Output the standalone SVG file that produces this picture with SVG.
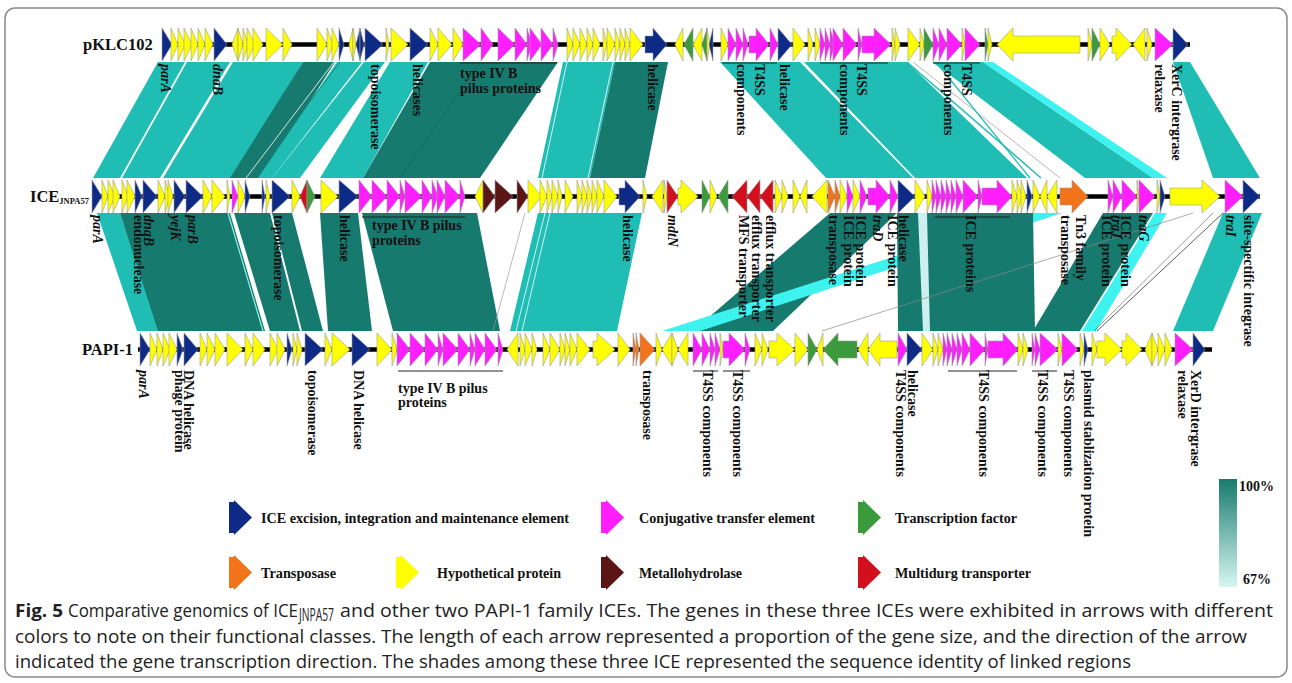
<svg xmlns="http://www.w3.org/2000/svg" width="1292" height="683" viewBox="0 0 1292 683">
<style>
.n{fill:#0c2a86}.m{fill:#ff1eff}.y{fill:#ffff00}.g{fill:#3b9a3b}.o{fill:#f2731a}.b{fill:#5b1515}.r{fill:#d20f1c}
.trk polygon,.leg polygon{stroke:#9a9a9a;stroke-width:0.6;stroke-linejoin:round}
.bb{stroke:#000;stroke-width:4.5}
.lt{fill:#20bdb5}.dk{fill:#177a6f}.cy{fill:#3ef2ef}.pl{fill:#cdeff0}
.lb{font-family:"Liberation Serif","Times New Roman",serif;font-weight:bold;font-size:14px;fill:#111}
.it{font-style:italic}
.bar{stroke:#222;stroke-width:1}
.tn{font-family:"Liberation Serif","Times New Roman",serif;font-weight:bold;font-size:16.5px;fill:#111}
.lg{font-family:"Liberation Serif","Times New Roman",serif;font-weight:bold;font-size:15.5px;fill:#111}
.cap{font-family:"Open Sans","Liberation Sans",sans-serif;font-size:18px;fill:#222}
</style>
<defs>
<linearGradient id="idg" x1="0" y1="0" x2="0" y2="1">
<stop offset="0" stop-color="#187a6d"/><stop offset="1" stop-color="#d6f7f1"/>
</linearGradient>
<polygon id="la" points="0,2 5,2 5,0 23,17.5 5,35 5,33 0,33"/>
</defs>
<rect x="5" y="8" width="1282" height="669" rx="10" fill="#fff" stroke="#8a8a8a" stroke-width="1.5"/>

<g id="connectors">
<polygon class="lt" points="158,62 185,62 120,178 93,178"/>
<polygon class="lt" points="187,62 230,62 160,178 122,178"/>
<polygon class="lt" points="233,62 303,62 232,178 163,178"/>
<polygon class="dk" points="303,62 335,62 262,178 230,178"/>
<polygon class="lt" points="337,62 362,62 272,178 258,178"/>
<line x1="334" y1="62" x2="246" y2="178" stroke="#fff" stroke-width="0.8"/>
<line x1="340" y1="62" x2="252" y2="178" stroke="#177a6f" stroke-width="0.8"/>
<polygon class="lt" points="364,62 385,62 300,178 272,178"/>
<polygon class="lt" points="390,62 428,62 363,178 320,178"/>
<polygon class="dk" points="430,62 558,62 480,178 363,178"/>
<line x1="480" y1="62" x2="400" y2="178" stroke="#0f5f56" stroke-width="0.6"/>
<polygon class="lt" points="563,62 615,62 590,178 538,178"/>
<line x1="567" y1="62" x2="542" y2="178" stroke="#fff" stroke-width="0.8"/>
<line x1="613" y1="62" x2="588" y2="178" stroke="#fff" stroke-width="0.8"/>
<polygon class="dk" points="615,62 668,62 645,178 590,178"/>
<polygon class="lt" points="720,62 800,62 913,178 826,178"/>
<polygon class="lt" points="804,62 907,62 1027,178 915,178"/>
<polygon class="lt" points="933,62 983,62 1153,178 1085,178"/>
<polygon class="cy" points="983,62 993,62 1167,178 1153,178"/>
<line x1="907" y1="62" x2="1041" y2="178" stroke="#20bdb5" stroke-width="1.5"/>
<line x1="933" y1="62" x2="1099" y2="178" stroke="#20bdb5" stroke-width="1.5"/>
<line x1="913" y1="62" x2="1060" y2="178" stroke="#999" stroke-width="0.7"/>
<line x1="936" y1="62" x2="1030" y2="178" stroke="#20bdb5" stroke-width="1.2"/>
<polygon class="lt" points="1173,62 1190,62 1260,178 1213,178"/>

<polygon class="lt" points="97,213 120,213 160,331 137,331"/>
<polygon class="dk" points="120,213 230,213 265,331 158,331"/>
<line x1="228" y1="213" x2="263" y2="331" stroke="#8eeeea" stroke-width="1.2"/>
<polygon class="dk" points="234,213 270,213 300,331 270,331"/>
<polygon class="dk" points="272,213 292,213 323,331 302,331"/>
<polygon class="dk" points="320,213 358,213 372,331 328,331"/>
<polygon class="dk" points="362,213 477,213 500,331 393,331"/>
<polygon class="lt" points="538,213 642,213 617,331 510,331"/>
<line x1="545" y1="213" x2="516" y2="331" stroke="#fff" stroke-width="0.8"/>
<line x1="550" y1="213" x2="522" y2="331" stroke="#fff" stroke-width="0.8"/>
<line x1="525" y1="213" x2="493" y2="331" stroke="#999" stroke-width="0.7"/>
<polygon class="dk" points="830,213 897,213 773,331 693,331"/>
<polygon class="cy" points="1030,213 1062,213 700,331 662,331"/>
<polygon class="dk" points="897,213 1033,213 1035,331 898,331"/>
<polygon class="pl" points="918,213 927,213 930,331 923,331"/>
<polygon class="dk" points="1103,213 1153,213 1080,331 1033,331"/>
<polygon class="cy" points="1155,213 1167,213 1096,331 1082,331"/>
<line x1="1193" y1="213" x2="822" y2="331" stroke="#888" stroke-width="0.7"/>
<line x1="1223" y1="213" x2="1097" y2="331" stroke="#333" stroke-width="0.8"/>
<line x1="1213" y1="213" x2="1094" y2="331" stroke="#555" stroke-width="0.6"/>
<polygon class="lt" points="1223,213 1262,213 1213,331 1173,331"/>
</g>

<g id="track-pKLC102" class="trk" transform="translate(0,28)">
<line class="bb" x1="162" y1="16.5" x2="1190" y2="16.5"/>
<polygon class="n" points="162,0 172,16.5 162,33"/>
<polygon class="y" points="171,0 178,16.5 171,33"/>
<polygon class="y" points="178,0 185,16.5 178,33"/>
<polygon class="y" points="184,0 192,16.5 184,33"/>
<polygon class="y" points="191,0 198,16.5 191,33"/>
<polygon class="y" points="198,0 205,16.5 198,33"/>
<polygon class="y" points="205,0 213,16.5 205,33"/>
<polygon class="n" points="214,0 227,16.5 214,33"/>
<polygon class="y" points="238,0 232,16.5 238,33"/>
<polygon class="y" points="238,0 243,16.5 238,33"/>
<polygon class="y" points="243,0 248,16.5 243,33"/>
<polygon class="y" points="247,0 255,16.5 247,33"/>
<polygon class="y" points="253,0 263,16.5 253,33"/>
<polygon class="y" points="266,0 283,16.5 266,33"/>
<polygon class="y" points="283,0 292,16.5 283,33"/>
<polygon class="y" points="317,0 327,16.5 317,33"/>
<polygon class="y" points="327,0 333,16.5 327,33"/>
<polygon class="y" points="332,0 339,16.5 332,33"/>
<polygon class="n" points="339,0 344,16.5 339,33"/>
<polygon class="y" points="353,0 349,16.5 353,33"/>
<polygon class="y" points="353,0 356,16.5 353,33"/>
<polygon class="n" points="360,0 356,16.5 360,33"/>
<polygon class="n" points="360,0 364,16.5 360,33"/>
<polygon class="n" points="365,0 383,16.5 365,33"/>
<polygon class="y" points="386,0 389,16.5 386,33"/>
<polygon class="y" points="391,0 408,16.5 391,33"/>
<polygon class="n" points="410,0 428,16.5 410,33"/>
<polygon class="y" points="430,0 438,16.5 430,33"/>
<polygon class="y" points="438,0 452,16.5 438,33"/>
<polygon class="y" points="453,0 463,16.5 453,33"/>
<polygon class="m" points="463,0 481,16.5 463,33"/>
<polygon class="m" points="481,0 493,16.5 481,33"/>
<polygon class="m" points="498,0 515,16.5 498,33"/>
<polygon class="m" points="515,0 527,16.5 515,33"/>
<polygon class="m" points="527,0 532,16.5 527,33"/>
<polygon class="m" points="530,0 542,16.5 530,33"/>
<polygon class="m" points="541,0 553,16.5 541,33"/>
<polygon class="m" points="553,0 558,16.5 553,33"/>
<polygon class="y" points="567,0 573,16.5 567,33"/>
<polygon class="y" points="573,0 580,16.5 573,33"/>
<polygon class="y" points="580,0 587,16.5 580,33"/>
<polygon class="y" points="587,0 593,16.5 587,33"/>
<polygon class="y" points="593,0 600,16.5 593,33"/>
<polygon class="y" points="603,0 607,16.5 603,33"/>
<polygon class="y" points="607,0 615,16.5 607,33"/>
<polygon class="y" points="615,0 620,16.5 615,33"/>
<polygon class="y" points="620,0 625,16.5 620,33"/>
<polygon class="y" points="625,0 630,16.5 625,33"/>
<polygon class="y" points="630,0 643,16.5 630,33"/>
<polygon class="n" points="645,8 653,8 653,0 667,16.5 653,33 653,25 645,25"/>
<polygon class="y" points="683,0 675,16.5 683,33"/>
<polygon class="g" points="693,0 684,16.5 693,33"/>
<polygon class="y" points="702,0 693,16.5 702,33"/>
<polygon class="g" points="707,0 702,16.5 707,33"/>
<polygon class="y" points="707,0 710,16.5 707,33"/>
<polygon class="n" points="713,0 709,16.5 713,33"/>
<polygon class="y" points="721,0 728,16.5 721,33"/>
<polygon class="m" points="728,0 736,16.5 728,33"/>
<polygon class="m" points="736,0 743,16.5 736,33"/>
<polygon class="m" points="743,0 748,16.5 743,33"/>
<polygon class="m" points="749,8 756,8 756,0 769,16.5 756,33 756,25 749,25"/>
<polygon class="m" points="770,0 778,16.5 770,33"/>
<polygon class="n" points="778,0 792,16.5 778,33"/>
<polygon class="y" points="793,0 805,16.5 793,33"/>
<polygon class="y" points="808,0 813,16.5 808,33"/>
<polygon class="y" points="815,0 820,16.5 815,33"/>
<polygon class="m" points="820,0 825,16.5 820,33"/>
<polygon class="m" points="825,0 830,16.5 825,33"/>
<polygon class="m" points="830,0 835,16.5 830,33"/>
<polygon class="m" points="833,0 843,16.5 833,33"/>
<polygon class="m" points="843,0 857,16.5 843,33"/>
<polygon class="m" points="858,0 862,16.5 858,33"/>
<polygon class="m" points="862,8 874,8 874,0 891,16.5 874,33 874,25 862,25"/>
<polygon class="y" points="892,0 895,16.5 892,33"/>
<polygon class="y" points="895,0 900,16.5 895,33"/>
<polygon class="y" points="908,0 920,16.5 908,33"/>
<polygon class="y" points="920,0 924,16.5 920,33"/>
<polygon class="g" points="924,0 933,16.5 924,33"/>
<polygon class="m" points="933,0 939,16.5 933,33"/>
<polygon class="m" points="939,0 947,16.5 939,33"/>
<polygon class="m" points="947,0 962,16.5 947,33"/>
<polygon class="y" points="962,0 965,16.5 962,33"/>
<polygon class="m" points="965,0 980,16.5 965,33"/>
<polygon class="g" points="985,0 988,16.5 985,33"/>
<polygon class="y" points="988,0 992,16.5 988,33"/>
<polygon class="y" points="1080,8 1013,8 1013,0 997,16.5 1013,33 1013,25 1080,25"/>
<polygon class="y" points="1088,0 1092,16.5 1088,33"/>
<polygon class="g" points="1092,0 1100,16.5 1092,33"/>
<polygon class="y" points="1100,0 1110,16.5 1100,33"/>
<polygon class="y" points="1112,8 1116,8 1116,0 1132,16.5 1116,33 1116,25 1112,25"/>
<polygon class="y" points="1145,0 1133,16.5 1145,33"/>
<polygon class="y" points="1147,0 1152,16.5 1147,33"/>
<polygon class="m" points="1155,0 1173,16.5 1155,33"/>
<polygon class="n" points="1173,0 1188,16.5 1173,33"/>
</g>

<g id="track-ICE" class="trk" transform="translate(0,180)">
<line class="bb" x1="92" y1="16.5" x2="1260" y2="16.5"/>
<polygon class="n" points="92,0 102,16.5 92,33"/>
<polygon class="y" points="102,0 108,16.5 102,33"/>
<polygon class="y" points="108,0 115,16.5 108,33"/>
<polygon class="y" points="113,0 120,16.5 113,33"/>
<polygon class="y" points="122,0 128,16.5 122,33"/>
<polygon class="y" points="127,0 135,16.5 127,33"/>
<polygon class="n" points="135,0 142,16.5 135,33"/>
<polygon class="n" points="143,0 157,16.5 143,33"/>
<polygon class="y" points="158,0 165,16.5 158,33"/>
<polygon class="y" points="165,0 170,16.5 165,33"/>
<polygon class="y" points="168,0 173,16.5 168,33"/>
<polygon class="n" points="174,0 185,16.5 174,33"/>
<polygon class="n" points="186,0 203,16.5 186,33"/>
<polygon class="y" points="203,0 212,16.5 203,33"/>
<polygon class="y" points="212,0 225,16.5 212,33"/>
<polygon class="y" points="227,0 230,16.5 227,33"/>
<polygon class="m" points="232,0 238,16.5 232,33"/>
<polygon class="y" points="238,0 245,16.5 238,33"/>
<polygon class="n" points="245,0 250,16.5 245,33"/>
<polygon class="n" points="262,0 265,16.5 262,33"/>
<polygon class="y" points="266,0 270,16.5 266,33"/>
<polygon class="n" points="272,0 290,16.5 272,33"/>
<polygon class="y" points="292,0 300,16.5 292,33"/>
<polygon class="r" points="307,0 300,16.5 307,33"/>
<polygon class="g" points="307,0 315,16.5 307,33"/>
<polygon class="y" points="321,0 338,16.5 321,33"/>
<polygon class="n" points="339,0 358,16.5 339,33"/>
<polygon class="m" points="359,0 372,16.5 359,33"/>
<polygon class="m" points="372,0 387,16.5 372,33"/>
<polygon class="m" points="387,0 400,16.5 387,33"/>
<polygon class="m" points="400,0 405,16.5 400,33"/>
<polygon class="m" points="405,0 422,16.5 405,33"/>
<polygon class="m" points="422,0 432,16.5 422,33"/>
<polygon class="m" points="432,0 438,16.5 432,33"/>
<polygon class="m" points="437,0 445,16.5 437,33"/>
<polygon class="m" points="445,0 460,16.5 445,33"/>
<polygon class="m" points="460,0 465,16.5 460,33"/>
<polygon class="y" points="483,0 475,16.5 483,33"/>
<polygon class="b" points="483,0 495,16.5 483,33"/>
<polygon class="b" points="495,0 513,16.5 495,33"/>
<polygon class="b" points="517,0 528,16.5 517,33"/>
<polygon class="y" points="528,0 542,16.5 528,33"/>
<polygon class="y" points="540,0 547,16.5 540,33"/>
<polygon class="y" points="547,0 552,16.5 547,33"/>
<polygon class="y" points="552,0 558,16.5 552,33"/>
<polygon class="y" points="558,0 562,16.5 558,33"/>
<polygon class="y" points="565,0 573,16.5 565,33"/>
<polygon class="y" points="577,0 582,16.5 577,33"/>
<polygon class="y" points="582,0 587,16.5 582,33"/>
<polygon class="y" points="587,0 592,16.5 587,33"/>
<polygon class="y" points="592,0 597,16.5 592,33"/>
<polygon class="y" points="597,0 604,16.5 597,33"/>
<polygon class="y" points="604,0 617,16.5 604,33"/>
<polygon class="n" points="619,8 625,8 625,0 640,16.5 625,33 625,25 619,25"/>
<polygon class="y" points="643,0 647,16.5 643,33"/>
<polygon class="y" points="663,0 652,16.5 663,33"/>
<polygon class="y" points="664,0 667,16.5 664,33"/>
<polygon class="r" points="667,0 678,16.5 667,33"/>
<polygon class="y" points="678,8 681,8 681,0 698,16.5 681,33 681,25 678,25"/>
<polygon class="g" points="702,0 710,16.5 702,33"/>
<polygon class="y" points="710,0 717,16.5 710,33"/>
<polygon class="g" points="728,0 718,16.5 728,33"/>
<polygon class="r" points="747,0 732,16.5 747,33"/>
<polygon class="r" points="760,0 747,16.5 760,33"/>
<polygon class="r" points="773,0 760,16.5 773,33"/>
<polygon class="y" points="775,0 782,16.5 775,33"/>
<polygon class="y" points="782,0 788,16.5 782,33"/>
<polygon class="y" points="793,0 800,16.5 793,33"/>
<polygon class="y" points="807,0 800,16.5 807,33"/>
<polygon class="y" points="827,0 812,16.5 827,33"/>
<polygon class="o" points="828,0 835,16.5 828,33"/>
<polygon class="o" points="835,0 840,16.5 835,33"/>
<polygon class="y" points="840,0 847,16.5 840,33"/>
<polygon class="m" points="847,0 853,16.5 847,33"/>
<polygon class="y" points="853,0 860,16.5 853,33"/>
<polygon class="m" points="860,0 867,16.5 860,33"/>
<polygon class="m" points="868,8 876,8 876,0 890,16.5 876,33 876,25 868,25"/>
<polygon class="m" points="890,0 898,16.5 890,33"/>
<polygon class="n" points="898,0 915,16.5 898,33"/>
<polygon class="y" points="915,0 925,16.5 915,33"/>
<polygon class="y" points="927,0 932,16.5 927,33"/>
<polygon class="m" points="932,0 936,16.5 932,33"/>
<polygon class="m" points="936,0 941,16.5 936,33"/>
<polygon class="m" points="941,0 946,16.5 941,33"/>
<polygon class="m" points="946,0 951,16.5 946,33"/>
<polygon class="m" points="951,0 956,16.5 951,33"/>
<polygon class="m" points="956,0 963,16.5 956,33"/>
<polygon class="m" points="963,0 978,16.5 963,33"/>
<polygon class="m" points="978,0 982,16.5 978,33"/>
<polygon class="m" points="982,8 997,8 997,0 1012,16.5 997,33 997,25 982,25"/>
<polygon class="y" points="1012,0 1017,16.5 1012,33"/>
<polygon class="y" points="1017,0 1022,16.5 1017,33"/>
<polygon class="y" points="1021,0 1026,16.5 1021,33"/>
<polygon class="n" points="1027,0 1032,16.5 1027,33"/>
<polygon class="y" points="1033,0 1040,16.5 1033,33"/>
<polygon class="y" points="1047,0 1040,16.5 1047,33"/>
<polygon class="y" points="1057,0 1047,16.5 1057,33"/>
<polygon class="o" points="1060,8 1072,8 1072,0 1088,16.5 1072,33 1072,25 1060,25"/>
<polygon class="m" points="1108,0 1113,16.5 1108,33"/>
<polygon class="m" points="1113,0 1122,16.5 1113,33"/>
<polygon class="m" points="1122,0 1137,16.5 1122,33"/>
<polygon class="y" points="1137,0 1139,16.5 1137,33"/>
<polygon class="m" points="1139,0 1155,16.5 1139,33"/>
<polygon class="y" points="1157,0 1160,16.5 1157,33"/>
<polygon class="n" points="1160,0 1165,16.5 1160,33"/>
<polygon class="y" points="1170,8 1202,8 1202,0 1220,16.5 1202,33 1202,25 1170,25"/>
<polygon class="m" points="1225,0 1243,16.5 1225,33"/>
<polygon class="n" points="1243,0 1260,16.5 1243,33"/>
</g>

<g id="track-PAPI-1" class="trk" transform="translate(0,333)">
<line class="bb" x1="138" y1="16.5" x2="1212" y2="16.5"/>
<polygon class="n" points="140,0 150,16.5 140,33"/>
<polygon class="y" points="150,0 157,16.5 150,33"/>
<polygon class="y" points="157,0 163,16.5 157,33"/>
<polygon class="y" points="163,0 170,16.5 163,33"/>
<polygon class="y" points="169,0 177,16.5 169,33"/>
<polygon class="n" points="177,0 183,16.5 177,33"/>
<polygon class="n" points="184,0 198,16.5 184,33"/>
<polygon class="y" points="200,0 207,16.5 200,33"/>
<polygon class="y" points="207,0 215,16.5 207,33"/>
<polygon class="y" points="215,0 225,16.5 215,33"/>
<polygon class="y" points="227,0 243,16.5 227,33"/>
<polygon class="y" points="245,0 253,16.5 245,33"/>
<polygon class="y" points="253,0 265,16.5 253,33"/>
<polygon class="y" points="270,0 278,16.5 270,33"/>
<polygon class="y" points="277,0 285,16.5 277,33"/>
<polygon class="n" points="287,0 292,16.5 287,33"/>
<polygon class="y" points="293,0 297,16.5 293,33"/>
<polygon class="y" points="297,0 302,16.5 297,33"/>
<polygon class="n" points="305,0 323,16.5 305,33"/>
<polygon class="y" points="325,0 332,16.5 325,33"/>
<polygon class="y" points="332,0 350,16.5 332,33"/>
<polygon class="n" points="352,0 370,16.5 352,33"/>
<polygon class="y" points="377,0 392,16.5 377,33"/>
<polygon class="y" points="392,0 397,16.5 392,33"/>
<polygon class="m" points="397,0 410,16.5 397,33"/>
<polygon class="m" points="410,0 425,16.5 410,33"/>
<polygon class="m" points="425,0 438,16.5 425,33"/>
<polygon class="m" points="438,0 443,16.5 438,33"/>
<polygon class="m" points="443,0 458,16.5 443,33"/>
<polygon class="m" points="458,0 470,16.5 458,33"/>
<polygon class="m" points="470,0 475,16.5 470,33"/>
<polygon class="m" points="475,0 485,16.5 475,33"/>
<polygon class="m" points="485,0 497,16.5 485,33"/>
<polygon class="m" points="498,0 503,16.5 498,33"/>
<polygon class="y" points="518,0 507,16.5 518,33"/>
<polygon class="y" points="520,0 525,16.5 520,33"/>
<polygon class="y" points="525,0 532,16.5 525,33"/>
<polygon class="y" points="532,0 537,16.5 532,33"/>
<polygon class="y" points="543,0 550,16.5 543,33"/>
<polygon class="y" points="550,0 560,16.5 550,33"/>
<polygon class="y" points="560,0 565,16.5 560,33"/>
<polygon class="y" points="565,0 570,16.5 565,33"/>
<polygon class="y" points="570,0 577,16.5 570,33"/>
<polygon class="y" points="577,0 590,16.5 577,33"/>
<polygon class="y" points="593,8 597,8 597,0 615,16.5 597,33 597,25 593,25"/>
<polygon class="y" points="618,0 630,16.5 618,33"/>
<polygon class="o" points="633,0 636,16.5 633,33"/>
<polygon class="o" points="636,0 639,16.5 636,33"/>
<polygon class="o" points="640,0 655,16.5 640,33"/>
<polygon class="y" points="656,0 662,16.5 656,33"/>
<polygon class="y" points="672,0 662,16.5 672,33"/>
<polygon class="y" points="672,0 678,16.5 672,33"/>
<polygon class="y" points="688,0 678,16.5 688,33"/>
<polygon class="m" points="693,0 702,16.5 693,33"/>
<polygon class="m" points="702,0 710,16.5 702,33"/>
<polygon class="m" points="710,0 715,16.5 710,33"/>
<polygon class="m" points="715,0 720,16.5 715,33"/>
<polygon class="y" points="720,0 723,16.5 720,33"/>
<polygon class="m" points="723,8 729,8 729,0 745,16.5 729,33 729,25 723,25"/>
<polygon class="m" points="745,0 750,16.5 745,33"/>
<polygon class="y" points="755,0 762,16.5 755,33"/>
<polygon class="y" points="762,0 768,16.5 762,33"/>
<polygon class="y" points="769,8 777,8 777,0 795,16.5 777,33 777,25 769,25"/>
<polygon class="y" points="795,0 808,16.5 795,33"/>
<polygon class="g" points="808,0 817,16.5 808,33"/>
<polygon class="y" points="823,0 817,16.5 823,33"/>
<polygon class="g" points="857,8 838,8 838,0 823,16.5 838,33 838,25 857,25"/>
<polygon class="y" points="868,0 858,16.5 868,33"/>
<polygon class="y" points="897,8 880,8 880,0 868,16.5 880,33 880,25 897,25"/>
<polygon class="m" points="898,0 907,16.5 898,33"/>
<polygon class="n" points="907,0 922,16.5 907,33"/>
<polygon class="y" points="922,0 933,16.5 922,33"/>
<polygon class="y" points="933,0 938,16.5 933,33"/>
<polygon class="y" points="938,0 943,16.5 938,33"/>
<polygon class="m" points="943,0 947,16.5 943,33"/>
<polygon class="m" points="947,0 952,16.5 947,33"/>
<polygon class="m" points="952,0 957,16.5 952,33"/>
<polygon class="m" points="957,0 962,16.5 957,33"/>
<polygon class="m" points="962,0 970,16.5 962,33"/>
<polygon class="m" points="970,0 985,16.5 970,33"/>
<polygon class="m" points="985,0 988,16.5 985,33"/>
<polygon class="m" points="988,8 1003,8 1003,0 1018,16.5 1003,33 1003,25 988,25"/>
<polygon class="y" points="1018,0 1023,16.5 1018,33"/>
<polygon class="y" points="1023,0 1028,16.5 1023,33"/>
<polygon class="m" points="1032,0 1035,16.5 1032,33"/>
<polygon class="m" points="1035,0 1040,16.5 1035,33"/>
<polygon class="m" points="1040,0 1058,16.5 1040,33"/>
<polygon class="y" points="1058,0 1062,16.5 1058,33"/>
<polygon class="m" points="1062,0 1078,16.5 1062,33"/>
<polygon class="y" points="1080,0 1084,16.5 1080,33"/>
<polygon class="n" points="1084,0 1088,16.5 1084,33"/>
<polygon class="y" points="1092,0 1097,16.5 1092,33"/>
<polygon class="y" points="1097,8 1105,8 1105,0 1122,16.5 1105,33 1105,25 1097,25"/>
<polygon class="y" points="1122,8 1126,8 1126,0 1142,16.5 1126,33 1126,25 1122,25"/>
<polygon class="y" points="1152,0 1145,16.5 1152,33"/>
<polygon class="y" points="1152,0 1158,16.5 1152,33"/>
<polygon class="y" points="1158,0 1165,16.5 1158,33"/>
<polygon class="y" points="1165,0 1172,16.5 1165,33"/>
<polygon class="m" points="1175,0 1193,16.5 1175,33"/>
<polygon class="n" points="1193,0 1205,16.5 1193,33"/>
</g>

<g id="track-names">
<text class="tn" x="83" y="50">pKLC102</text>
<text class="tn" x="30" y="202">ICE<tspan font-size="8.5" dy="2">JNPA57</tspan></text>
<text class="tn" x="82" y="355">PAPI-1</text>
</g>

<g id="labels-pKLC102">
<line class="bar" x1="460" y1="63" x2="557" y2="63"/>
<line class="bar" x1="722" y1="63" x2="777" y2="63"/>
<line class="bar" x1="820" y1="63" x2="888" y2="63"/>
<line class="bar" x1="933" y1="63" x2="980" y2="63"/>
<text class="lb it" transform="translate(161,64) rotate(90)">parA</text>
<text class="lb it" transform="translate(213,64) rotate(90)">dnaB</text>
<text class="lb" transform="translate(371,64) rotate(90)">topoisomerase</text>
<text class="lb" transform="translate(413,64) rotate(90)">helicases</text>
<text class="lb" x="460" y="78">type IV B</text>
<text class="lb" x="460" y="93">pilus proteins</text>
<text class="lb" transform="translate(648,64) rotate(90)">helicase</text>
<text class="lb" transform="translate(737,64) rotate(90)">components</text>
<text class="lb" transform="translate(755,64) rotate(90)">T4SS</text>
<text class="lb" transform="translate(780,64) rotate(90)">helicase</text>
<text class="lb" transform="translate(840,64) rotate(90)">components</text>
<text class="lb" transform="translate(857,64) rotate(90)">T4SS</text>
<text class="lb" transform="translate(944,64) rotate(90)">components</text>
<text class="lb" transform="translate(962,64) rotate(90)">T4SS</text>
<text class="lb" transform="translate(1155,64) rotate(90)">relaxase</text>
<text class="lb" transform="translate(1172,64) rotate(90)">XerC intergrase</text>
</g>

<g id="labels-ICE">
<line class="bar" x1="362" y1="217" x2="465" y2="217"/>
<line class="bar" x1="935" y1="217" x2="1010" y2="217"/>
<text class="lb it" transform="translate(93,215) rotate(90)">parA</text>
<text class="lb" transform="translate(134,215) rotate(90)">endonuclease</text>
<text class="lb it" transform="translate(144,215) rotate(90)">dnaB</text>
<text class="lb it" transform="translate(171,215) rotate(90)">yejK</text>
<text class="lb it" transform="translate(188,215) rotate(90)">parB</text>
<text class="lb" transform="translate(274,215) rotate(90)">topoisomerase</text>
<text class="lb" transform="translate(340,215) rotate(90)">helicase</text>
<text class="lb" x="372" y="230">type IV B pilus</text>
<text class="lb" x="372" y="245">proteins</text>
<text class="lb" transform="translate(623,215) rotate(90)">helicase</text>
<text class="lb it" transform="translate(668,215) rotate(90)">mdtN</text>
<text class="lb" transform="translate(739,215) rotate(90)">MFS transporter</text>
<text class="lb" transform="translate(752,215) rotate(90)">efflux transporter</text>
<text class="lb" transform="translate(766,215) rotate(90)">efflux transporter</text>
<text class="lb" transform="translate(829,215) rotate(90)">transposase</text>
<text class="lb" transform="translate(844,215) rotate(90)">ICE protein</text>
<text class="lb" transform="translate(856,215) rotate(90)">ICE protein</text>
<text class="lb it" transform="translate(873,215) rotate(90)">traD</text>
<text class="lb" transform="translate(888,215) rotate(90)">ICE protein</text>
<text class="lb" transform="translate(899,215) rotate(90)">helicase</text>
<text class="lb" transform="translate(966,215) rotate(90)">ICE proteins</text>
<text class="lb" transform="translate(1061,215) rotate(90)">transposase</text>
<text class="lb" transform="translate(1076,215) rotate(90)">Tn3 family</text>
<text class="lb" transform="translate(1102,215) rotate(90)">ICE protein</text>
<text class="lb it" transform="translate(1112,215) rotate(90)">traJ</text>
<text class="lb" transform="translate(1121,215) rotate(90)">ICE protein</text>
<text class="lb it" transform="translate(1139,215) rotate(90)">traG</text>
<text class="lb it" transform="translate(1226,215) rotate(90)">traI</text>
<text class="lb" transform="translate(1244,215) rotate(90)">site-spectific integrase</text>
</g>

<g id="labels-PAPI-1">
<line class="bar" x1="398" y1="371" x2="503" y2="371"/>
<line class="bar" x1="693" y1="371" x2="718" y2="371"/>
<line class="bar" x1="723" y1="371" x2="750" y2="371"/>
<line class="bar" x1="948" y1="371" x2="1017" y2="371"/>
<line class="bar" x1="1032" y1="371" x2="1057" y2="371"/>
<text class="lb it" transform="translate(139,370) rotate(90)">parA</text>
<text class="lb" transform="translate(175,370) rotate(90)">phage protein</text>
<text class="lb" transform="translate(184,370) rotate(90)">DNA helicase</text>
<text class="lb" transform="translate(308,370) rotate(90)">topoisomerase</text>
<text class="lb" transform="translate(354,370) rotate(90)">DNA helicase</text>
<text class="lb" x="398" y="393">type IV B pilus</text>
<text class="lb" x="398" y="407">proteins</text>
<text class="lb" transform="translate(643,370) rotate(90)">transposase</text>
<text class="lb" transform="translate(703,370) rotate(90)">T4SS components</text>
<text class="lb" transform="translate(733,370) rotate(90)">T4SS components</text>
<text class="lb" transform="translate(896,370) rotate(90)">T4SS components</text>
<text class="lb" transform="translate(908,370) rotate(90)">helicase</text>
<text class="lb" transform="translate(979,370) rotate(90)">T4SS components</text>
<text class="lb" transform="translate(1038,370) rotate(90)">T4SS components</text>
<text class="lb" transform="translate(1064,370) rotate(90)">T4SS components</text>
<text class="lb" transform="translate(1084,370) rotate(90)">plasmid stablization protein</text>
<text class="lb" transform="translate(1178,370) rotate(90)">relaxase</text>
<text class="lb" transform="translate(1191,370) rotate(90)">XerD intergrase</text>
</g>

<g id="legend" class="leg">
<use href="#la" class="n" x="229" y="500"/>
<text class="lg" x="261" y="523" textLength="308" lengthAdjust="spacingAndGlyphs">ICE excision, integration and maintenance element</text>
<use href="#la" class="m" x="601" y="500"/>
<text class="lg" x="639" y="523" textLength="176" lengthAdjust="spacingAndGlyphs">Conjugative transfer element</text>
<use href="#la" class="g" x="858" y="500"/>
<text class="lg" x="895" y="523" textLength="122" lengthAdjust="spacingAndGlyphs">Transcription factor</text>
<use href="#la" class="o" x="229" y="555"/>
<text class="lg" x="261" y="578" textLength="75" lengthAdjust="spacingAndGlyphs">Transposase</text>
<use href="#la" class="y" x="396" y="555"/>
<text class="lg" x="437" y="578" textLength="124" lengthAdjust="spacingAndGlyphs">Hypothetical protein</text>
<use href="#la" class="b" x="601" y="555"/>
<text class="lg" x="639" y="578" textLength="103" lengthAdjust="spacingAndGlyphs">Metallohydrolase</text>
<use href="#la" class="r" x="858" y="555"/>
<text class="lg" x="895" y="578" textLength="136" lengthAdjust="spacingAndGlyphs">Multidurg transporter</text>
</g>

<g id="identity-scale">
<rect x="1219" y="479" width="18" height="108" fill="url(#idg)"/>
<text class="lb" x="1239" y="491">100%</text>
<text class="lb" x="1243" y="584">67%</text>
</g>

<g id="caption">
<text class="cap" x="15" y="617" font-weight="bold" textLength="48" lengthAdjust="spacingAndGlyphs">Fig. 5</text>
<text class="cap" x="68" y="617" textLength="230" lengthAdjust="spacingAndGlyphs">Comparative genomics of ICE</text>
<text class="cap" x="299" y="621" font-size="12" textLength="35" lengthAdjust="spacingAndGlyphs">JNPA57</text>
<text class="cap" x="340" y="617" textLength="933" lengthAdjust="spacingAndGlyphs">and other two PAPI-1 family ICEs. The genes in these three ICEs were exhibited in arrows with different</text>
<text class="cap" x="15" y="643" textLength="1232" lengthAdjust="spacingAndGlyphs">colors to note on their functional classes. The length of each arrow represented a proportion of the gene size, and the direction of the arrow</text>
<text class="cap" x="15" y="668" textLength="1116" lengthAdjust="spacingAndGlyphs">indicated the gene transcription direction. The shades among these three ICE represented the sequence identity of linked regions</text>
</g>
</svg>
